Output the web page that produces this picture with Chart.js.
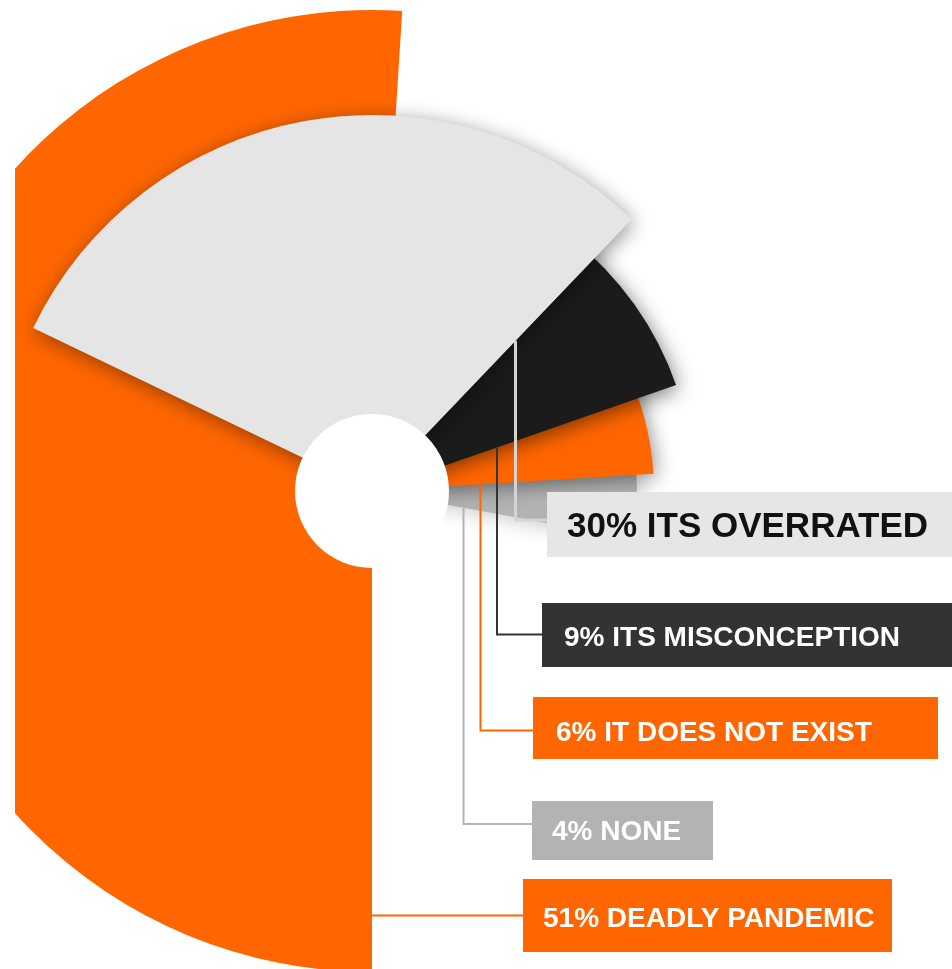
<!DOCTYPE html>
<html>
<head>
<meta charset="utf-8">
<title>Opinions on the pandemic</title>
<script src="https://cdn.jsdelivr.net/npm/chart.js@4.4.0/dist/chart.umd.min.js"></script>
<style>
  html, body { margin: 0; padding: 0; background: #fff; }
  #wrap { position: relative; width: 952px; height: 969px; overflow: hidden; }
</style>
</head>
<body>
<div id="wrap"><canvas id="opinionChart" width="952" height="969"></canvas></div>
<script>
// answers, listed from the top slice of the fan down to the bottom one
const answers = ['ITS OVERRATED', 'ITS MISCONCEPTION', 'IT DOES NOT EXIST', 'NONE', 'DEADLY PANDEMIC'];
const percents = [30, 9, 6, 4, 51];

// look of each slice
const sliceColors = ['#e5e5e5', '#1b1b1b', '#ff6600', '#b3b3b3', '#ff6600'];
const sliceRadius = [376, 322, 282, 265, 481];
const sliceRotation = [-64.3, 38.4, 64.9, 86, 180];
const sliceShadow = [0.42, 0.5, 0.45, 0.2, 0];

const CENTER = { x: 372, y: 491 };
const HOLE = 77;
const CLIP_LEFT = 15;

// label boxes and the leader lines that tie them to a slice edge
const labelBoxes = [
    { x: 547, y: 492, w: 405, h: 65, fill: '#e6e6e6', color: '#111', size: 35, tx: 567, ty: 537 },
    { x: 542, y: 603, w: 410, h: 64, fill: '#333333', color: '#fff', size: 28, tx: 564, ty: 646 },
    { x: 533, y: 697, w: 405, h: 62, fill: '#ff6600', color: '#fff', size: 28, tx: 556, ty: 741 },
    { x: 532, y: 801, w: 181, h: 59, fill: '#b3b3b3', color: '#fff', size: 28, tx: 552, ty: 840 },
    { x: 523, y: 879, w: 369, h: 73, fill: '#ff6600', color: '#fff', size: 28, tx: 543, ty: 927 }
];
const leaders = [
    { edge: 'end', axis: 'x', at: 515.5, turn: 520, color: '#d4d4d4', width: 3 },
    { edge: 'end', axis: 'x', at: 497, turn: 634.5, color: '#333333', width: 2 },
    { edge: 'end', axis: 'x', at: 480.5, turn: 730.5, color: '#ff6600', width: 2 },
    { edge: 'end', axis: 'x', at: 463.5, turn: 824, color: '#b3b3b3', width: 2 },
    { edge: 'start', axis: 'y', at: 915.5, color: '#ff6600', width: 2 }
];

/**
 * Point where a vertical (axis x) or horizontal (axis y) line meets a slice edge
 */
function edgePoint(arc, edge, axis, at) {
    const a = edge === 'start' ? arc.startAngle : arc.endAngle;
    const cos = Math.cos(a), sin = Math.sin(a);
    if (axis === 'x') {
        const t = (at - arc.x) / cos;
        return { x: at, y: arc.y + t * sin };
    }
    const t = (at - arc.y) / sin;
    return { x: arc.x + t * cos, y: at };
}

/**
 * Lays the rings out as one fan of overlapping slices with their own radius
 */
const fanPlugin = {
    id: 'fan',
    afterDatasetsUpdate(chart) {
        chart.data.datasets.forEach((ds, i) => {
            chart.getDatasetMeta(i).data.forEach(arc => {
                arc.x = CENTER.x;
                arc.y = CENTER.y;
                arc.innerRadius = 0;
                arc.outerRadius = sliceRadius[i];
            });
        });
    },
    beforeDatasetsDraw(chart) {
        const ctx = chart.ctx;
        ctx.save();
        ctx.beginPath();
        ctx.rect(CLIP_LEFT, 0, chart.width - CLIP_LEFT, chart.height);
        ctx.clip();
    },
    beforeDatasetDraw(chart, args) {
        const ctx = chart.ctx;
        ctx.save();
        const alpha = sliceShadow[args.index];
        if (alpha > 0) {
            ctx.shadowColor = `rgba(0, 0, 0, ${alpha})`;
            ctx.shadowBlur = 20;
            ctx.shadowOffsetX = 2;
            ctx.shadowOffsetY = 4;
        }
    },
    afterDatasetDraw(chart) {
        chart.ctx.restore();
    },
    afterDatasetsDraw(chart) {
        const ctx = chart.ctx;

        // white centre
        ctx.beginPath();
        ctx.arc(CENTER.x, CENTER.y, HOLE, 0, Math.PI * 2);
        ctx.fillStyle = '#fff';
        ctx.fill();
        ctx.restore();

        // leader lines
        leaders.forEach((ld, i) => {
            const arc = chart.getDatasetMeta(i).data[0];
            const box = labelBoxes[i];
            const p = edgePoint(arc, ld.edge, ld.axis, ld.at);
            ctx.save();
            ctx.strokeStyle = ld.color;
            ctx.lineWidth = ld.width;
            ctx.beginPath();
            ctx.moveTo(p.x, p.y);
            if (ld.axis === 'x') {
                ctx.lineTo(ld.at, ld.turn);
                ctx.lineTo(box.x, ld.turn);
            } else {
                ctx.lineTo(box.x, ld.at);
            }
            ctx.stroke();
            ctx.restore();
        });

        // label boxes
        labelBoxes.forEach((box, i) => {
            ctx.save();
            ctx.fillStyle = box.fill;
            ctx.fillRect(box.x, box.y, box.w, box.h);
            ctx.fillStyle = box.color;
            ctx.font = `bold ${box.size}px "Liberation Sans", Arial, sans-serif`;
            ctx.textBaseline = 'alphabetic';
            ctx.textAlign = 'left';
            ctx.fillText(`${percents[i]}% ${answers[i]}`, box.tx, box.ty);
            ctx.restore();
        });
    }
};

const datasets = percents.map((p, i) => ({
    label: answers[i],
    data: [p, 100 - p],
    backgroundColor: [sliceColors[i], 'rgba(0, 0, 0, 0)'],
    borderWidth: 0,
    rotation: sliceRotation[i],
    clip: false,
    order: i
}));

new Chart(document.getElementById('opinionChart'), {
    type: 'doughnut',
    data: {
        labels: ['answer', 'rest'],
        datasets: datasets
    },
    options: {
        responsive: false,
        animation: false,
        events: [],
        cutout: 0,
        layout: { padding: 0 },
        plugins: {
            legend: { display: false },
            tooltip: { enabled: false }
        }
    },
    plugins: [fanPlugin]
});
</script>
</body>
</html>
